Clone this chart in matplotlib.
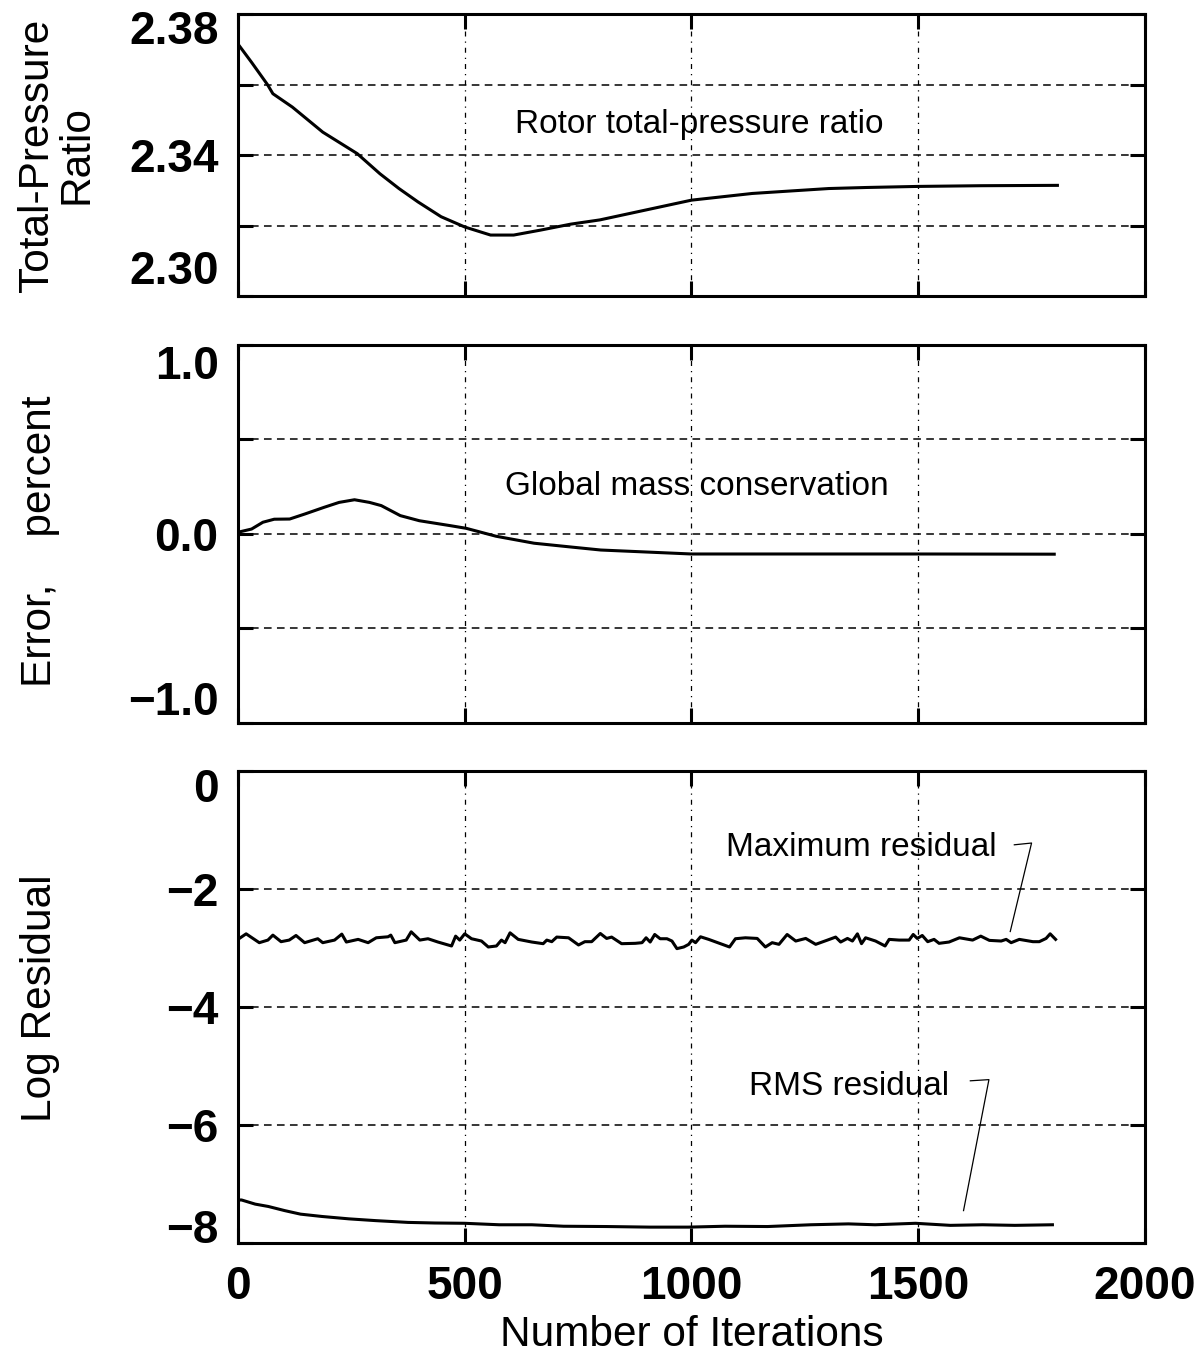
import numpy as np
import matplotlib.pyplot as plt

# --- data ---
# total-pressure ratio
ptr_iter = [0, 30, 65, 77, 120, 187, 263, 313, 355, 397, 448, 500, 557, 608, 667,
            734, 798, 899, 1000, 1134, 1218, 1303, 1387, 1500, 1639, 1807]
ptr_val = [2.3715, 2.3663, 2.3600, 2.3574, 2.3536, 2.3465, 2.3404, 2.3347, 2.3305,
           2.3267, 2.3225, 2.3196, 2.3173, 2.3173, 2.3187, 2.3204, 2.3216, 2.3244,
           2.3272, 2.3291, 2.3298, 2.3305, 2.3308, 2.3311, 2.3313, 2.3314]

# global mass conservation error, percent
mass_iter = [0, 30, 55, 80, 114, 148, 190, 223, 257, 290, 316, 358, 400, 468, 503,
             569, 653, 738, 800, 1000, 1500, 1800]
mass_err = [0.009, 0.026, 0.062, 0.078, 0.079, 0.106, 0.141, 0.167, 0.181, 0.167,
            0.150, 0.097, 0.070, 0.044, 0.030, -0.012, -0.049, -0.070, -0.085,
            -0.106, -0.106, -0.107]

# maximum residual (log)
max_iter = [0, 18, 47, 66, 77, 95, 113, 128, 147, 176, 187, 213, 229, 239, 265,
            287, 305, 331, 337, 346, 371, 382, 401, 419, 441, 471, 480, 489, 500,
            515, 537, 552, 570, 581, 589, 600, 618, 648, 673, 681, 692, 703, 729,
            751, 765, 780, 799, 813, 824, 846, 876,
            891, 900, 909, 919, 931, 946, 957, 968, 983, 994, 1001, 1009, 1020,
            1038, 1064, 1084, 1097, 1119, 1145, 1163, 1178, 1193, 1211, 1230, 1252,
            1274, 1300, 1318, 1329, 1344, 1355, 1366, 1375, 1384, 1406, 1427, 1436,
            1458, 1480, 1489, 1498, 1509, 1521, 1535, 1546, 1568, 1591, 1620, 1638,
            1657, 1683, 1694, 1705, 1723, 1753, 1767, 1782, 1791, 1803]
max_res = [-2.853, -2.759, -2.909, -2.865, -2.781, -2.892, -2.865, -2.787, -2.909,
           -2.842, -2.909, -2.865, -2.764, -2.898, -2.853, -2.909, -2.826, -2.809,
           -2.781, -2.909, -2.865, -2.725, -2.865, -2.842, -2.898, -2.965, -2.798,
           -2.865, -2.759, -2.842, -2.881, -2.982, -2.965, -2.865, -2.909, -2.742,
           -2.853, -2.898, -2.926, -2.865, -2.892, -2.814, -2.826, -2.948, -2.892,
           -2.892, -2.753, -2.837, -2.814, -2.926, -2.920,
           -2.909, -2.826, -2.898, -2.770, -2.842, -2.842, -2.881, -3.010, -2.982,
           -2.937, -2.865, -2.909, -2.809, -2.853, -2.926, -2.982, -2.842, -2.826,
           -2.837, -2.982, -2.909, -2.937, -2.770, -2.881, -2.837, -2.937, -2.865,
           -2.814, -2.898, -2.837, -2.881, -2.759, -2.926, -2.826, -2.881, -2.965,
           -2.853, -2.865, -2.865, -2.770, -2.837, -2.787, -2.892, -2.853, -2.920,
           -2.898, -2.826, -2.865, -2.798, -2.870, -2.881, -2.853, -2.909, -2.853,
           -2.892, -2.892, -2.837, -2.759, -2.853]

# RMS residual (log)
rms_iter = [0, 8, 38, 67, 103, 138, 186, 245, 304, 375, 434, 500, 576, 648, 718,
            813, 908, 993, 1074, 1168, 1263, 1346, 1405, 1494, 1571, 1642, 1713, 1796]
rms_res = [-7.27, -7.27, -7.34, -7.38, -7.45, -7.51, -7.55, -7.59, -7.62, -7.65,
           -7.66, -7.665, -7.69, -7.69, -7.715, -7.72, -7.73, -7.73, -7.715, -7.72,
           -7.69, -7.675, -7.69, -7.665, -7.70, -7.69, -7.70, -7.69]

# leader lines for the residual labels
max_lead_x = [1712, 1750, 1703]
max_lead_y = [-1.25, -1.22, -2.72]
rms_lead_x = [1615, 1656, 1600]
rms_lead_y = [-5.25, -5.23, -7.45]

x_ticks = [0, 500, 1000, 1500, 2000]

TICK_FONT = dict(family="Liberation Sans", weight="bold", size=33)
LABEL_FONT = dict(family="Liberation Sans", size=30.5)
NOTE_FONT = dict(family="Liberation Sans", size=24)

fig = plt.figure(figsize=(11.97, 13.63), dpi=100)
left, width = 0.1988, 0.7577
ax1 = fig.add_axes([left, 0.7828, width, 0.2069])
ax2 = fig.add_axes([left, 0.4696, width, 0.2773])
ax3 = fig.add_axes([left, 0.0880, width, 0.3463])


def style_axes(ax, yticks, ylabels, show_x, end_pos):
    ax.set_xlim(0, 2000)
    ax.set_ylim(yticks[0], yticks[-1])
    ax.set_xticks(x_ticks)
    ax.set_yticks(yticks)
    # end labels sit inside the frame in the original, so draw those by hand
    inner = [""] + list(ylabels[1:-1]) + [""]
    ax.set_yticklabels(inner, fontdict=TICK_FONT)
    for lab, ypos in zip([ylabels[0], ylabels[-1]], end_pos):
        ax.text(-0.0214, ypos, lab, transform=ax.transAxes, ha="right",
                va="center", fontdict=TICK_FONT)
    if show_x:
        ax.set_xticklabels([str(t) for t in x_ticks], fontdict=TICK_FONT)
    else:
        ax.set_xticklabels([])
    ax.tick_params(direction="in", length=11, width=2.2, top=True, right=True,
                   pad=14)
    ax.tick_params(axis="x", pad=16)
    for s in ax.spines.values():
        s.set_linewidth(2.2)
    # grid drawn by hand so the dash styles differ like the original
    for t in yticks[1:-1]:
        ax.axhline(t, color="black", lw=1.1, ls=(0, (5, 3.5)), zorder=1)
    for t in x_ticks[1:-1]:
        ax.axvline(t, color="black", lw=0.9, ls=(0, (4, 4, 1, 4)), zorder=1)


# --- panel 1: total-pressure ratio ---
style_axes(ax1, [2.30, 2.32, 2.34, 2.36, 2.38],
           ["2.30", "", "2.34", "", "2.38"], False, (0.085, 0.936))
ax1.plot(ptr_iter, ptr_val, color="black", lw=2.2, zorder=3)
ax1.text(1017, 2.3488, "Rotor total-pressure ratio", ha="center", va="center",
         fontdict=NOTE_FONT)
ax1.set_ylabel("Total-Pressure\nRatio", fontdict=LABEL_FONT, linespacing=1.0)

# --- panel 2: mass conservation ---
style_axes(ax2, [-1.0, -0.5, 0.0, 0.5, 1.0],
           ["\u22121.0", "", "0.0", "", "1.0"], False, (0.053, 0.942))
ax2.plot(mass_iter, mass_err, color="black", lw=2.2, zorder=3)
ax2.text(1012, 0.249, "Global mass conservation", ha="center", va="center",
         fontdict=NOTE_FONT)
ax2.set_ylabel("Error,    percent", fontdict=LABEL_FONT)

# --- panel 3: residuals ---
style_axes(ax3, [-8, -6, -4, -2, 0],
           ["\u22128", "\u22126", "\u22124", "\u22122", "0"], True, (0.025, 0.96))
ax3.plot(max_iter, max_res, color="black", lw=2.2, zorder=3)
ax3.plot(rms_iter, rms_res, color="black", lw=2.2, zorder=3)
ax3.plot(max_lead_x, max_lead_y, color="black", lw=0.9)
ax3.plot(rms_lead_x, rms_lead_y, color="black", lw=0.9)
ax3.text(1374, -1.29, "Maximum residual", ha="center", va="center",
         fontdict=NOTE_FONT)
ax3.text(1347, -5.34, "RMS residual", ha="center", va="center",
         fontdict=NOTE_FONT)
ax3.set_ylabel("Log Residual", fontdict=LABEL_FONT)
ax3.set_xlabel("Number of Iterations", fontdict=LABEL_FONT)

# label placement
for ax, xpos, ypos in [(ax1, -0.200, 0.5), (ax2, -0.218, 0.48),
                       (ax3, -0.218, 0.519)]:
    ax.yaxis.label.set_va("center")
    ax.yaxis.set_label_coords(xpos, ypos)
ax3.xaxis.label.set_va("center")
ax3.xaxis.set_label_coords(0.5, -0.195)

fig.savefig("out.png", dpi=100)
